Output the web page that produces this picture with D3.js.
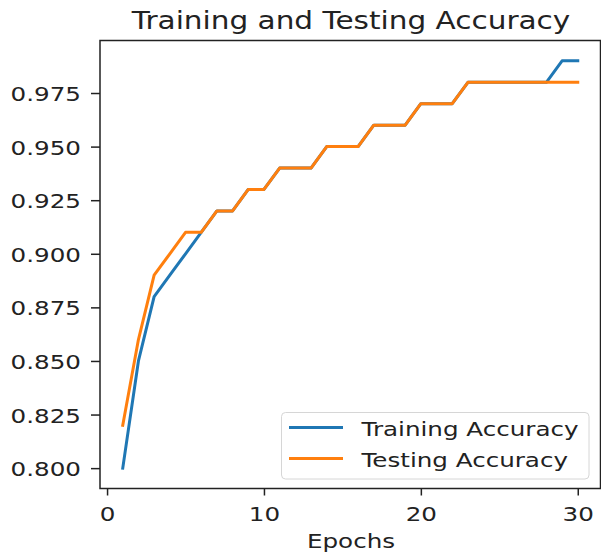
<!DOCTYPE html>
<html>
<head>
<meta charset="utf-8">
<script src="https://cdn.jsdelivr.net/npm/d3@7"></script>
<style>
  body { margin: 0; background: #fff; }
  text { font-family: "DejaVu Sans", sans-serif; fill: #222; }
</style>
</head>
<body>
<svg></svg>
<script>
const WIDTH = 601;
const HEIGHT = 555;
const STRETCH = 1.23; // the source picture is stretched sideways

const epochs = [1, 2, 3, 4, 5, 6, 7, 8, 9, 10, 11, 12, 13, 14, 15,
  16, 17, 18, 19, 20, 21, 22, 23, 24, 25, 26, 27, 28, 29, 30];
const trainAcc = [0.80, 0.85, 0.88, 0.89, 0.90, 0.91, 0.92, 0.92, 0.93, 0.93,
  0.94, 0.94, 0.94, 0.95, 0.95, 0.95, 0.96, 0.96, 0.96, 0.97,
  0.97, 0.97, 0.98, 0.98, 0.98, 0.98, 0.98, 0.98, 0.99, 0.99];
const testAcc = [0.82, 0.86, 0.89, 0.90, 0.91, 0.91, 0.92, 0.92, 0.93, 0.93,
  0.94, 0.94, 0.94, 0.95, 0.95, 0.95, 0.96, 0.96, 0.96, 0.97,
  0.97, 0.97, 0.98, 0.98, 0.98, 0.98, 0.98, 0.98, 0.98, 0.98];
const xTicks = [0, 10, 20, 30];
const yTicks = [0.800, 0.825, 0.850, 0.875, 0.900, 0.925, 0.950, 0.975];
const seriesNames = ['Training Accuracy', 'Testing Accuracy'];
const COLORS = ['#1f77b4', '#ff7f0e'];

const PLOT = { left: 100, right: 600.5, top: 40.5, bottom: 488.5 };

const svg = d3.select('svg').attr('width', WIDTH).attr('height', HEIGHT);

const x = d3.scaleLinear().domain([-0.45, 31.45]).range([PLOT.left, PLOT.right]);
const y = d3.scaleLinear().domain([0.7905, 0.9995]).range([PLOT.bottom, PLOT.top]);

// put a text at (px, py) and widen it like the source
function placeText(sel, px, py) {
  sel.attr('x', 0).attr('y', 0).attr('dy', null)
    .attr('transform', `translate(${px},${py}) scale(${STRETCH},1)`);
}

// lines
const line = (vals) => d3.line()
  .x((d, i) => x(epochs[i]))
  .y((d) => y(d))(vals);

[trainAcc, testAcc].forEach((vals, i) => {
  svg.append('path')
    .attr('d', line(vals))
    .attr('fill', 'none')
    .attr('stroke', COLORS[i])
    .attr('stroke-width', 3)
    .attr('stroke-linejoin', 'round')
    .attr('stroke-linecap', 'square');
});

// axes
const xAxis = svg.append('g')
  .attr('transform', `translate(0,${PLOT.bottom})`)
  .call(d3.axisBottom(x).tickValues(xTicks).tickSize(7).tickSizeOuter(0));
xAxis.selectAll('.tick text')
  .style('font-size', '20px')
  .attr('text-anchor', 'middle')
  .each(function () { placeText(d3.select(this), 0, 32); });

const yAxis = svg.append('g')
  .attr('transform', `translate(${PLOT.left},0)`)
  .call(d3.axisLeft(y).tickValues(yTicks).tickFormat(d3.format('.3f')).tickSize(9).tickSizeOuter(0));
yAxis.selectAll('.tick text')
  .style('font-size', '20px')
  .attr('text-anchor', 'end')
  .each(function () { placeText(d3.select(this), -19, 7.5); });

svg.selectAll('.domain').remove();
svg.selectAll('.tick line').attr('stroke', '#222').attr('stroke-width', 1.5);

// frame
svg.append('rect')
  .attr('x', PLOT.left).attr('y', PLOT.top)
  .attr('width', PLOT.right - PLOT.left).attr('height', PLOT.bottom - PLOT.top)
  .attr('fill', 'none').attr('stroke', '#222').attr('stroke-width', 1.5);

// title and label
svg.append('text').text('Training and Testing Accuracy')
  .style('font-size', '24px').attr('text-anchor', 'middle')
  .call(placeText, 351, 28.5);

svg.append('text').text('Epochs')
  .style('font-size', '20px').attr('text-anchor', 'middle')
  .call(placeText, 351, 548);

// legend
const legend = svg.append('g');
legend.append('rect')
  .attr('x', 281.5).attr('y', 412.5).attr('width', 307.5).attr('height', 66.5)
  .attr('rx', 4)
  .attr('fill', '#fff').attr('fill-opacity', 0.8)
  .attr('stroke', '#d6d6d6').attr('stroke-width', 1);

seriesNames.forEach((name, i) => {
  const ly = 427.5 + i * 31;
  legend.append('line')
    .attr('x1', 289).attr('x2', 343).attr('y1', ly).attr('y2', ly)
    .attr('stroke', COLORS[i]).attr('stroke-width', 3);
  legend.append('text').text(name)
    .style('font-size', '20px')
    .call(placeText, 361.5, ly + 8.5);
});
</script>
</body>
</html>
